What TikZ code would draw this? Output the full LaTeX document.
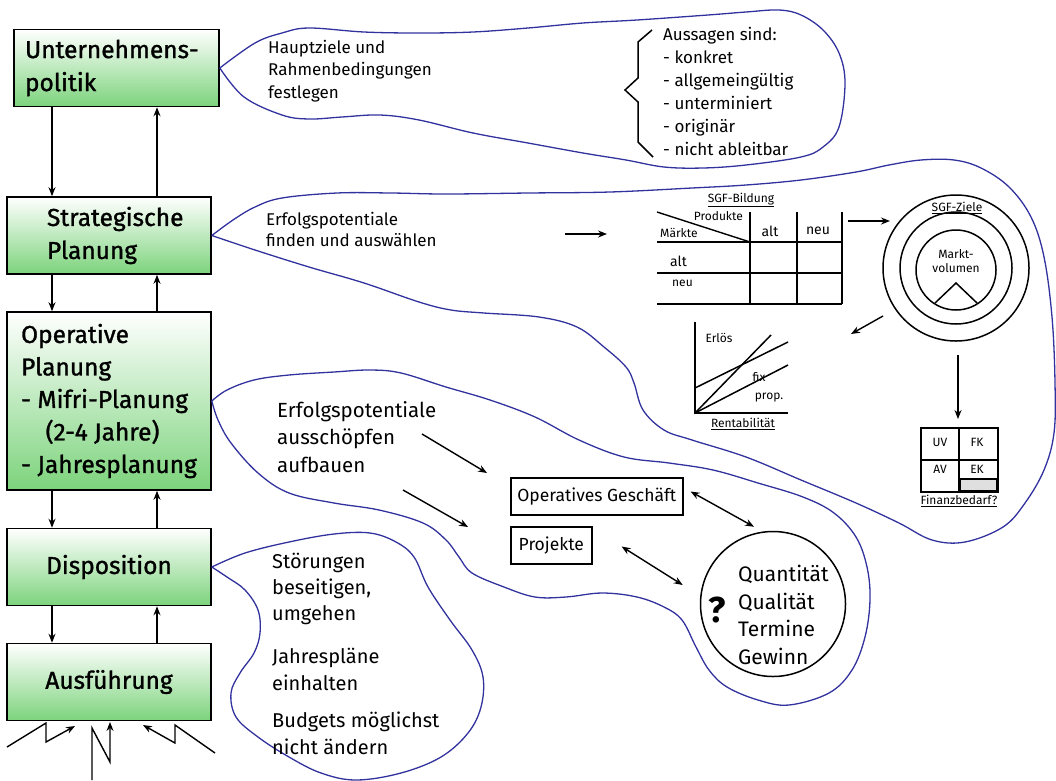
\documentclass[tikz,border=0pt]{standalone}
\usepackage{fontspec}
\setmainfont{Fira Sans}
\newfontfamily\boxfont{Fira Sans}[FakeBold=1.2]
\usetikzlibrary{arrows.meta}

\definecolor{boxgreen}{RGB}{124,211,124}
\definecolor{blobblue}{RGB}{50,50,158}

\begin{document}
\begin{tikzpicture}[
    x = 1pt, y = -1pt,
    >= {Stealth[length=9pt, width=7pt, inset=3pt]},
    level/.style = {
        draw, line width=1.6pt, rectangle, top color=white, bottom color=boxgreen,
        minimum width=204pt, minimum height=77pt, align=left,
        font=\boxfont\fontsize{24.5}{33}\selectfont
    },
    flow/.style = {->, line width=1.4pt},
    twoway/.style = {<->, line width=1.4pt},
    blob/.style = {draw=blobblue, line width=1.3pt},
    note/.style = {anchor=north west, inner sep=0pt, align=left},
    tiny/.style = {inner sep=0pt, font=\fontsize{12}{14}\selectfont},
    frame/.style = {draw, line width=1.6pt, anchor=west, inner xsep=4pt,
        minimum height=37pt, font=\fontsize{17.5}{20}\selectfont},
    grid/.style = {line width=1.8pt}
  ]
    \useasboundingbox (0,0) rectangle (1056,780);
    \coordinate (down) at (52,0);
    \coordinate (up) at (157,0);

    % Planungsebenen
    \node[level, minimum width=205pt, text width=183pt, inner xsep=11pt] (pol) at (116.5,68) {Unternehmens-\\politik};
    \node[level, text width=124pt, inner xsep=40pt] (strat) at (109,235.5) {Strategische\\Planung};
    \node[level, minimum height=178pt, font=\boxfont\fontsize{24.5}{32.5}\selectfont] (oper) at (109,401)
        {Operative\\Planung\\- Mifri-Planung\\\hspace*{1em}(2-4 Jahre)\\- Jahresplanung};
    \node[level] (disp) at (109,567) {Disposition};
    \node[level] (ausf) at (109,682) {Ausführung};

    \draw[flow] (pol.south -| down) -- (strat.north -| down);
    \draw[flow] (strat.north -| up) -- (pol.south -| up);
    \draw[flow] (strat.south -| down) -- (oper.north -| down);
    \draw[flow] (oper.north -| up) -- (strat.south -| up);
    \draw[flow] (oper.south -| down) -- (disp.north -| down);
    \draw[flow] (disp.north -| up) -- (oper.south -| up);
    \draw[flow] (disp.south -| down) -- (ausf.north -| down);
    \draw[flow] (ausf.north -| up) -- (disp.south -| up);

    % Stoerungen von unten
    \draw[flow] (7,747) -- (46,723) -- (46,742) -- (75,726);
    \draw[flow] (92,780) -- (92,728) -- (110,762) -- (110,722);
    \draw[flow] (215,753) -- (175,725) -- (175,743) -- (143,725);

    % Blasen
    \draw[blob] plot[smooth, tension=0.6] coordinates {(pol.east) (255,43) (282,33) (309,28) (364,32)
        (419,33) (473,32) (528,28) (583,23) (637,20) (708,15) (746,12) (779,10) (801,15) (823,30)
        (839,53) (845,83) (839,127) (823,147) (801,157) (746,165) (703,168) (664,167) (626,160)
        (583,153) (528,143) (473,133) (419,120) (380,115) (342,117) (309,119) (282,115) (244,97) (pol.east)};
    \draw[blob] plot[smooth, tension=0.6] coordinates {(strat.east) (233,220) (255,207) (282,198)
        (337,193) (391,193) (446,194) (528,193) (610,192) (692,188) (746,185) (801,180) (856,172)
        (889,165) (921,160) (954,160) (981,168) (1009,187) (1031,217) (1044,257) (1052,317)
        (1055,383) (1054,433) (1044,470) (1025,503) (1003,527) (965,542) (932,540) (899,523)
        (856,503) (801,480) (746,457) (692,440) (664,430) (643,410) (634,383) (626,367) (604,347)
        (577,327) (539,317) (484,313) (451,310) (419,302) (364,283) (309,267) (255,250) (strat.east)};
    \draw[blob] plot[smooth, tension=0.6] coordinates {(oper.east) (227,390) (254,380) (289,375)
        (334,372) (370,370) (401,373) (446,387) (490,400) (535,417) (579,440) (624,457) (669,463)
        (713,470) (758,483) (803,497) (834,513) (856,537) (867,567) (870,600) (865,637) (852,670)
        (829,693) (789,705) (758,700) (727,687) (709,670) (696,647) (682,620) (664,607) (637,597)
        (602,593) (566,597) (535,597) (504,587) (472,573) (459,557) (446,540) (423,523) (379,510)
        (334,503) (289,493) (258,473) (231,443) (218,420) (oper.east)};
    \draw[blob] plot[smooth, tension=0.6] coordinates {(disp.east) (245,553) (289,542) (334,534)
        (370,533) (396,542) (414,557) (428,587) (450,620) (472,650) (483,677) (481,707) (468,733)
        (441,757) (401,773) (356,780) (321,773) (289,757) (258,737) (236,717) (231,693) (240,673)
        (254,653) (260,633) (258,610) (245,590) (227,577) (disp.east)};

    % Unternehmenspolitik
    \node[note, font=\fontsize{17}{22.5}\selectfont] (haupt) at (268,40) {Hauptziele und\\Rahmenbedingungen\\festlegen};
    \draw[line width=1.5pt] (652,30) -- (638,42) -- (638,78) -- (625,90) -- (638,102) -- (638,142) -- (653,157);
    \node[note, font=\fontsize{17}{23}\selectfont] (aussagen) at (663,27)
        {Aussagen sind:\\- konkret\\- allgemeingültig\\- unterminiert\\- originär\\- nicht ableitbar};

    % Strategische Planung
    \node[note, font=\fontsize{17}{21}\selectfont] (finden) at (266,212) {Erfolgspotentiale\\finden und auswählen};
    \draw[flow] (565,234) -- (607,234);
    \draw[grid] (657,242) -- (842,242) (657,273) -- (842,273) (657,304) -- (842,304);
    \draw[grid] (750,212) -- (750,304) (797,212) -- (797,304) (842,212) -- (842,304);
    \draw[line width=1.4pt] (657,212) -- (750,242);
    \node[tiny] (sgfb) at (741,200) {\underline{SGF-Bildung}};
    \node[tiny, anchor=east] (prod) at (743,216) {Produkte};
    \node[tiny, anchor=west] (maerkte) at (660,233) {Märkte};
    \node[inner sep=0pt, font=\fontsize{14}{16}\selectfont] (palt) at (770,231) {alt};
    \node[inner sep=0pt, font=\fontsize{14}{16}\selectfont] (pneu) at (818,231) {neu};
    \node[inner sep=0pt, anchor=west, font=\fontsize{14}{16}\selectfont] (malt) at (670,261) {alt};
    \node[tiny, anchor=west] (mneu) at (672,283) {neu};
    \draw[flow] (848,221) -- (890,221);

    \draw[line width=1.5pt] (956,268) circle[radius=73pt] (956,268) circle[radius=56pt] (956,270) circle[radius=40pt];
    \draw[line width=1.5pt] (935,303) -- (956,283) -- (977,303);
    \node[tiny] (sgfz) at (957,208) {\underline{SGF-Ziele}};
    \node[tiny, align=center] (markt) at (956,261) {Markt-\\volumen};
    \draw[flow] (883,316) -- (851,334);
    \draw[flow] (958,355) -- (958,419);

    \draw[line width=1.5pt] (695,322) -- (695,413) -- (788,413);
    \draw[line width=1.5pt] (695,413) -- (771,335);
    \draw[line width=1.5pt] (695,388) -- (788,342);
    \draw[line width=1.5pt] (695,413) -- (788,365);
    \node[tiny] (erloes) at (719,338) {Erlös};
    \node[tiny] (fix) at (759,377) {fix};
    \node[tiny] (prop) at (769,398) {prop.};
    \node[tiny] (rent) at (743,424) {\underline{Rentabilität}};

    \draw[grid] (921,428) rectangle (998,492) (959,428) -- (959,492) (921,460) -- (998,460);
    \draw[grid, fill=gray!25] (960,479) rectangle (997,491);
    \node[tiny] (uv) at (940,442) {UV};
    \node[tiny] (fk) at (977,442) {FK};
    \node[tiny] (av) at (940,469) {AV};
    \node[tiny] (ek) at (977,469) {EK};
    \node[tiny] (finanz) at (959,501) {\underline{Finanzbedarf?}};

    % Operative Planung
    \node[note, font=\fontsize{20.5}{27.5}\selectfont] (aus) at (277,401) {Erfolgspotentiale\\ausschöpfen\\aufbauen};
    \draw[flow] (422,434) -- (487,473);
    \draw[flow] (403,490) -- (468,527);
    \node[frame, minimum width=172pt] (opg) at (510,496.5) {Operatives Geschäft};
    \node[frame, minimum width=81pt] (proj) at (510,545.5) {Projekte};
    \node[draw, circle, line width=1.5pt, minimum size=145pt] (qcirc) at (773,604) {};
    \node[inner sep=0pt, font=\bfseries\fontsize{36}{36}\selectfont] (frage) at (717,610) {?};
    \node[note, font=\fontsize{21}{27.5}\selectfont] (qual) at (738,565) {Quantität\\Qualität\\Termine\\Gewinn};
    \draw[twoway] ([xshift=7pt, yshift=5pt]opg.east) -- ([xshift=-19pt, yshift=4pt]qcirc.north);
    \draw[twoway] ([xshift=29pt, yshift=-1pt]proj.east) -- ([xshift=-17pt, yshift=19pt]qcirc.west);

    % Disposition
    \node[note, font=\fontsize{20}{26}\selectfont] (stoer) at (272,553) {Störungen\\beseitigen,\\umgehen};
    \node[note, font=\fontsize{20}{27}\selectfont] (plaene) at (272,648) {Jahrespläne\\einhalten};
    \node[note, font=\fontsize{20}{27}\selectfont] (budget) at (272,712) {Budgets möglichst\\nicht ändern};
\end{tikzpicture}
\end{document}
